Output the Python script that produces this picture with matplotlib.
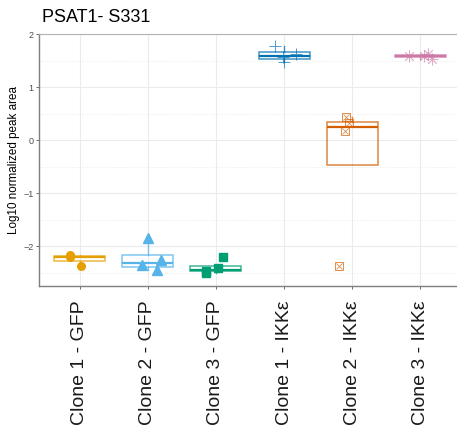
import matplotlib
matplotlib.use("Agg")
import matplotlib.pyplot as plt
from matplotlib.ticker import MultipleLocator

plt.rcParams['font.family'] = ['Liberation Sans', 'DejaVu Sans']

grupos = ["Clone 1 - GFP", "Clone 2 - GFP", "Clone 3 - GFP",
          "Clone 1 - IKK\u03b5", "Clone 2 - IKK\u03b5", "Clone 3 - IKK\u03b5"]
colores = ["#E69F00", "#56B4E9", "#009E73", "#0072B2", "#D55E00", "#CC79A7"]

valores = [
    [-2.17, -2.20, -2.37],
    [-1.85, -2.36, -2.26, -2.45],
    [-2.21, -2.50, -2.42, -2.46],
    [1.78, 1.47, 1.56, 1.62],
    [0.43, 0.32, 0.18, -2.38],
    [1.59, 1.58, 1.62, 1.52],
]
# desplazamiento horizontal (jitter)
jitter = [
    [-0.15, -0.14, 0.02],
    [0.0, -0.08, 0.19, 0.13],
    [0.11, -0.15, 0.03, -0.14],
    [-0.14, 0.0, -0.01, 0.18],
    [-0.09, -0.04, -0.10, -0.19],
    [-0.16, 0.05, 0.11, 0.18],
]

fig = plt.figure(figsize=(4.57, 4.30), dpi=100)
ax = fig.add_axes([39/457, 1 - 286/430, 422/457, 252/430])

pos = list(range(1, len(grupos) + 1))
ax.set_xlim(0.4, 6.6)
ax.set_ylim(-2.75, 2.0)

# rejilla
ax.yaxis.set_major_locator(MultipleLocator(1))
ax.yaxis.set_minor_locator(MultipleLocator(0.5))
ax.grid(True, which="major", color="#EBEBEB", lw=0.8, zorder=0)
ax.grid(True, which="minor", axis="y", color="#E5E5E5", lw=0.6, ls=(0, (1, 2)), zorder=0)
ax.set_axisbelow(True)

for i, (v, c) in enumerate(zip(valores, colores)):
    bp = ax.boxplot([v], positions=[pos[i]], widths=0.75, showfliers=False,
                    patch_artist=True, manage_ticks=False)
    for b in bp["boxes"]:
        b.set_facecolor("none")
        b.set_edgecolor(c)
        b.set_alpha(0.75)
        b.set_linewidth(1.1)
    for w in bp["whiskers"]:
        w.set_color(c)
        w.set_linewidth(1.0)
        w.set_alpha(0.75)
    for cap in bp["caps"]:
        cap.set_visible(False)
    for m in bp["medians"]:
        m.set_color(c)
        m.set_linewidth(1.6)

    xs = [pos[i] + d for d in jitter[i]]
    if i == 0:
        ax.plot(xs, v, "o", color=c, ms=5.5, ls="none", zorder=4)
    elif i == 1:
        ax.plot(xs, v, "^", color=c, ms=6.5, ls="none", zorder=4)
    elif i == 2:
        ax.plot(xs, v, "s", color=c, ms=5.2, ls="none", zorder=4)
    elif i == 3:
        ax.plot(xs, v, "+", color=c, ms=9, mew=0.7, alpha=0.7, ls="none", zorder=4)
    elif i == 4:
        ax.plot(xs, v, "s", color=c, ms=5.5, mfc="none", mew=0.7, alpha=0.7, ls="none", zorder=4)
        ax.plot(xs, v, "x", color=c, ms=4, mew=0.6, alpha=0.7, ls="none", zorder=4)
    else:
        ax.plot(xs, v, marker=(8, 2, 0), color=c, ms=8.5, mew=0.6, alpha=0.6, ls="none", zorder=4)

ax.set_xticks(pos)
ax.set_xticklabels(grupos, rotation=90, fontsize=14)
ax.tick_params(axis="y", which="major", labelsize=6.5, labelcolor="#4D4D4D",
               color="#555555", length=2.5, width=0.6, pad=1.5)
ax.tick_params(axis="y", which="minor", length=0)
ax.tick_params(axis="x", labelcolor="#1A1A1A", color="#555555", length=2.5, width=0.6, pad=8)

for s in ["left", "bottom"]:
    ax.spines[s].set_color("#7F7F7F")
    ax.spines[s].set_linewidth(1.0)
ax.spines["top"].set_color("#B3B3B3")
ax.spines["top"].set_linewidth(0.8)
ax.spines["right"].set_visible(False)

ax.set_ylabel("Log10 normalized peak area", fontsize=8.4)
ax.yaxis.set_label_coords((20 - 39) / 422, 0.5)
fig.text(42/457, 1 - 18/430, "PSAT1- S331", fontsize=13, va="center", ha="left")

fig.savefig("out.png", dpi=100)
